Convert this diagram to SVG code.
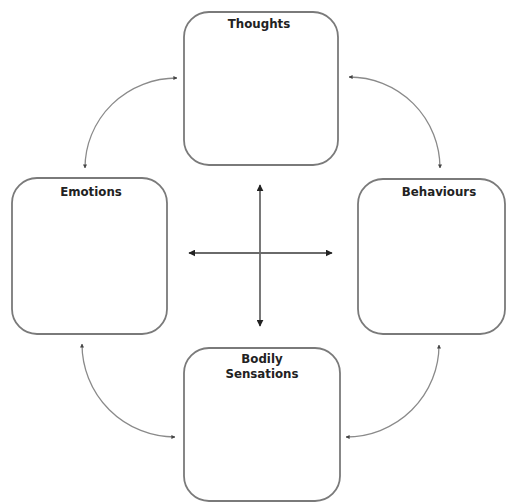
<svg xmlns="http://www.w3.org/2000/svg" width="507" height="502" viewBox="0 0 507 502">
<style>
.box{fill:#fff;stroke:#7a7a7a;stroke-width:1.8}
.lbl{font-family:"DejaVu Sans",sans-serif;font-weight:bold;font-size:11.8px;fill:#222;text-anchor:middle}
.arc{fill:none;stroke:#8a8a8a;stroke-width:1.3;marker-start:url(#sm);marker-end:url(#sm)}
.cross{fill:none;stroke:#6a6a6a;stroke-width:1.8;marker-start:url(#big);marker-end:url(#big)}
</style>
<defs>
<marker id="sm" viewBox="0 0 10 10" refX="9" refY="5" markerWidth="4" markerHeight="4" orient="auto-start-reverse" markerUnits="userSpaceOnUse"><path d="M0,0 L10,5 L0,10 z" fill="#444"/></marker>
<marker id="big" viewBox="0 0 10 10" refX="9" refY="5" markerWidth="7" markerHeight="7" orient="auto-start-reverse" markerUnits="userSpaceOnUse"><path d="M0,0 L10,5 L0,10 z" fill="#222"/></marker>
</defs>
<rect width="507" height="502" fill="#fff"/>
<g id="connectors">
<path class="arc" d="M85,168 A92,90 0 0 1 177,78"/>
<path class="arc" d="M349,77 A91,91 0 0 1 440,168"/>
<path class="arc" d="M82,344 A93,93 0 0 0 175,437"/>
<path class="arc" d="M439,345 A93,92 0 0 1 346,437"/>
<path class="cross" d="M260,185 L260,326"/>
<path class="cross" d="M189,253 L332,253"/>
</g>
<g id="thoughts">
<rect class="box" x="184" y="12" width="154" height="153" rx="25"/>
<text class="lbl" x="259" y="28">Thoughts</text>
</g>
<g id="emotions">
<rect class="box" x="12" y="178" width="155" height="156" rx="25"/>
<text class="lbl" x="91" y="196">Emotions</text>
</g>
<g id="behaviours">
<rect class="box" x="358" y="179" width="147" height="155" rx="25"/>
<text class="lbl" x="439" y="196">Behaviours</text>
</g>
<g id="bodily">
<rect class="box" x="184" y="348" width="156" height="153" rx="25"/>
<text class="lbl" x="262" y="363">Bodily</text>
<text class="lbl" x="262" y="378">Sensations</text>
</g>
</svg>
